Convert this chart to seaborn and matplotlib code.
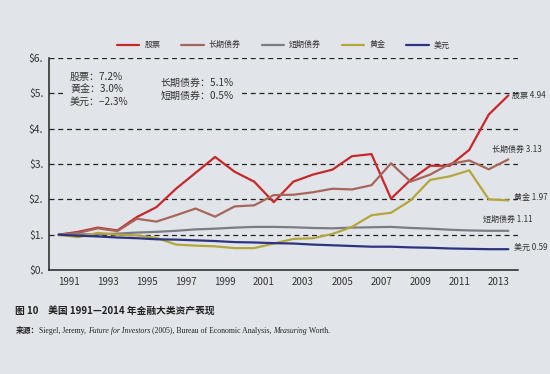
import matplotlib
matplotlib.use("Agg")
import matplotlib.pyplot as plt
import seaborn as sns
import pandas as pd
from matplotlib.lines import Line2D
from matplotlib.patches import Rectangle

years = list(range(1991, 2015))
stocks = [1.00, 1.08, 1.20, 1.12, 1.50, 1.78, 2.30, 2.75, 3.20, 2.78, 2.50, 1.92,
          2.50, 2.70, 2.84, 3.22, 3.28, 2.02, 2.55, 2.95, 2.95, 3.40, 4.40, 4.94]
long_bonds = [1.00, 1.05, 1.18, 1.10, 1.45, 1.37, 1.55, 1.74, 1.51, 1.80, 1.83, 2.12,
              2.13, 2.20, 2.30, 2.28, 2.40, 3.02, 2.50, 2.70, 3.00, 3.10, 2.85, 3.13]
short_bonds = [1.00, 1.01, 1.01, 1.03, 1.06, 1.08, 1.11, 1.15, 1.17, 1.20, 1.22, 1.22,
               1.21, 1.19, 1.18, 1.20, 1.21, 1.22, 1.19, 1.17, 1.14, 1.12, 1.11, 1.11]
gold = [1.00, 0.93, 1.05, 1.00, 0.98, 0.91, 0.72, 0.69, 0.67, 0.62, 0.62, 0.75,
        0.88, 0.90, 1.02, 1.22, 1.55, 1.62, 1.97, 2.55, 2.65, 2.82, 2.00, 1.97]
dollar = [1.00, 0.97, 0.95, 0.92, 0.90, 0.87, 0.86, 0.84, 0.82, 0.79, 0.78, 0.76,
          0.75, 0.72, 0.70, 0.68, 0.66, 0.66, 0.64, 0.63, 0.61, 0.60, 0.59, 0.59]

series_names = ["股票", "长期债券", "短期债券", "黄金", "美元"]
end_labels = ["股票 4.94", "长期债券 3.13", "短期债券 1.11", "黄金 1.97", "美元 0.59"]
y_ticks = [0, 1, 2, 3, 4, 5, 6]
y_tick_labels = ["$0.", "$1.", "$2.", "$3.", "$4.", "$5.", "$6."]
x_label_years = list(range(1991, 2014, 2))
colors = ["#c8282a", "#a8665a", "#7c7c86", "#b5a63c", "#2c3482"]

data = {"股票": stocks, "长期债券": long_bonds, "短期债券": short_bonds,
        "黄金": gold, "美元": dollar}
df = pd.concat([pd.DataFrame({"year": years, "value": v, "asset": k})
                for k, v in data.items()], ignore_index=True)

sns.set_style("white")
CJK = ["Noto Sans CJK SC", "DejaVu Sans"]
plt.rcParams["font.family"] = CJK

bg = "#e1e5e9"
fig = plt.figure(figsize=(5.5, 3.74), dpi=100, facecolor=bg)
ax = fig.add_axes([0.089, 0.278, 0.853, 0.567], facecolor=bg)

sns.lineplot(data=df, x="year", y="value", hue="asset", hue_order=series_names,
             palette=colors, linewidth=1.6, ax=ax, legend=False)

ax.set_xlim(1990.5, 2014.5)
ax.set_ylim(0, 6)
ax.set_yticks(y_ticks)
ax.set_yticklabels(y_tick_labels, fontsize=7.5, color="#333333")
ax.tick_params(axis="y", length=0, pad=4)
ax.set_xticks([y + 0.5 for y in x_label_years])
ax.set_xticklabels([str(y) for y in x_label_years], fontsize=7, color="#333333")
ax.tick_params(axis="x", which="major", length=0, pad=5)
ax.set_xticks([y - 0.5 for y in range(1991, 2016, 2)], minor=True)
ax.tick_params(axis="x", which="minor", length=4, width=1, color="#222222", direction="out")
ax.set_xlabel("")
ax.set_ylabel("")
for y in y_ticks[1:]:
    ax.axhline(y, color="#222222", linestyle=(0, (4, 3)), linewidth=0.9, zorder=0)
for s in ["top", "right"]:
    ax.spines[s].set_visible(False)
for s in ["left", "bottom"]:
    ax.spines[s].set_color("#222222")
    ax.spines[s].set_linewidth(1.1)

# patch behind the summary text that hides the $5 gridline
ax.add_patch(Rectangle((1991.2, 4.65), 9.0, 1.0, facecolor=bg, edgecolor="none", zorder=0.5))

# legend
handles = [Line2D([0], [0], color=c, lw=1.6) for c in colors]
fig.legend(handles, series_names, loc="center", bbox_to_anchor=(0.515, 0.88),
           ncol=5, frameon=False, fontsize=5.8, handlelength=2.8, columnspacing=2.6,
           handletextpad=0.6, labelcolor="#333333")

# summary text blocks
ax.text(0.045, 0.935, "股票：7.2%\n黄金：3.0%\n美元：−2.3%", transform=ax.transAxes,
        fontsize=7.2, va="top", ha="left", linespacing=1.3, color="#333333", zorder=1)
ax.text(0.237, 0.905, "长期债券：5.1%\n短期债券：0.5%", transform=ax.transAxes,
        fontsize=7.2, va="top", ha="left", linespacing=1.3, color="#333333", zorder=1)

# end labels
vals = [stocks[-1], long_bonds[-1], short_bonds[-1], gold[-1], dollar[-1]]
offsets = [(3, 0), (-12, 7), (-18, 8), (4, 2), (4, 1)]
for lab, v, off in zip(end_labels, vals, offsets):
    ax.annotate(lab, xy=(years[-1], v), xytext=off, textcoords="offset points",
                fontsize=5.8, va="center", ha="left", color="#333333",
                annotation_clip=False)

# caption
fig.text(0.028, 0.16, "图 10　美国 1991—2014 年金融大类资产表现", fontsize=7,
         fontweight="bold", color="#222222", family=CJK)

pieces = [("来源：", dict(family=["Noto Sans CJK SC", "DejaVu Sans"], fontweight="bold")),
          ("Siegel, Jeremy, ", dict(family=["Liberation Serif", "DejaVu Serif"])),
          ("Future for Investors", dict(family=["Liberation Serif", "DejaVu Serif"], style="italic")),
          (" (2005), Bureau of Economic Analysis, ", dict(family=["Liberation Serif", "DejaVu Serif"])),
          ("Measuring", dict(family=["Liberation Serif", "DejaVu Serif"], style="italic")),
          (" Worth.", dict(family=["Liberation Serif", "DejaVu Serif"]))]
renderer = fig.canvas.get_renderer()
x = 0.028
for s, kw in pieces:
    t = fig.text(x, 0.11, s, fontsize=5.6, color="#222222", **kw)
    bb = t.get_window_extent(renderer=renderer)
    x += bb.width / fig.bbox.width

fig.savefig("out.png", dpi=100, facecolor=bg)
